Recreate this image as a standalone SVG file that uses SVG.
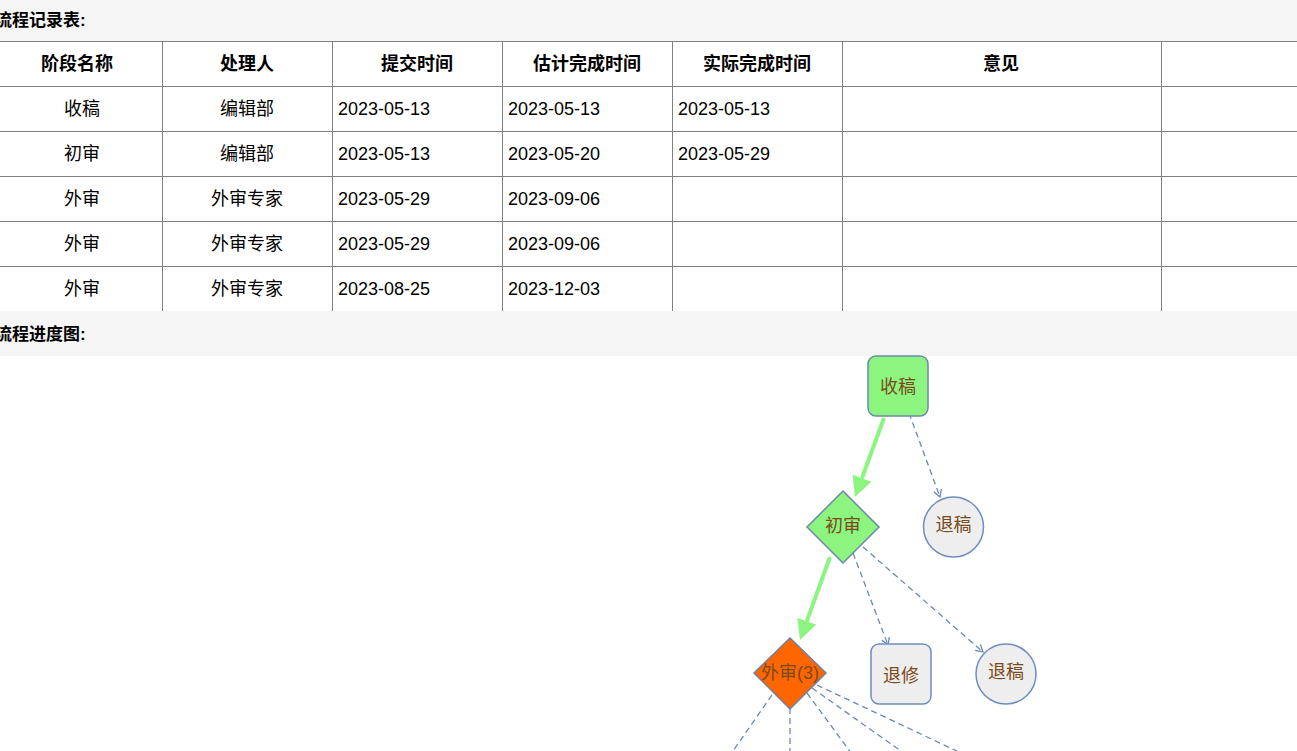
<svg xmlns="http://www.w3.org/2000/svg" width="1297" height="751" viewBox="0 0 1297 751">
<style>
.band{fill:#f5f5f5}
.title{font-family:"Liberation Sans","Noto Sans CJK SC",sans-serif;font-size:17px;font-weight:bold;fill:#000}
.grid{stroke:#808080;stroke-width:1;fill:none}
.th{font-family:"Liberation Sans","Noto Sans CJK SC",sans-serif;font-size:18px;font-weight:bold;fill:#000;text-anchor:middle;dominant-baseline:central}
.td{font-family:"Liberation Sans","Noto Sans CJK SC",sans-serif;font-size:18px;fill:#000;text-anchor:middle;dominant-baseline:central}
.tdl{font-family:"Liberation Sans","Noto Sans CJK SC",sans-serif;font-size:18px;fill:#000;dominant-baseline:central}
.ok{fill:#8cf580;stroke:#6f87a8;stroke-width:1.5}
.cur{fill:#ff6600;stroke:#6f7f9f;stroke-width:1.5}
.back{fill:#eeeeee;stroke:#6c8ebf;stroke-width:1.5}
.lbl{font-family:"Liberation Sans","Noto Sans CJK SC",sans-serif;font-size:18px;fill:#7a4a1a;text-anchor:middle;dominant-baseline:central}
.main{stroke:#8cf580;stroke-width:4;fill:none;marker-end:url(#ga)}
.alt{stroke:#6d87b6;stroke-width:1.3;stroke-dasharray:6 4;fill:none}
.alta{marker-end:url(#va)}
</style>
<defs>
<marker id="ga" markerUnits="userSpaceOnUse" markerWidth="20" markerHeight="20" viewBox="0 0 20 20" refX="0" refY="10" orient="auto">
<path d="M0,0 L20,10 L0,20 z" fill="#8cf580"/>
</marker>
<marker id="va" markerUnits="userSpaceOnUse" markerWidth="10" markerHeight="10" viewBox="0 0 10 10" refX="8" refY="5" orient="auto">
<path d="M1,1 L8,5 L1,9" fill="none" stroke="#6d87b6" stroke-width="1.3"/>
</marker>
</defs>
<rect width="1297" height="751" fill="#fff"/>
<g id="record-table">
<rect class="band" x="0" y="0" width="1297" height="41"/>
<text class="title" x="-5" y="26">流程记录表:</text>
<path class="grid" d="M0,41.5H1297M0,86.5H1297M0,131.5H1297M0,176.5H1297M0,221.5H1297M0,266.5H1297M162.5,41V311M332.5,41V311M502.5,41V311M672.5,41V311M842.5,41V311M1161.5,41V311"/>
<text class="th" x="77" y="64">阶段名称</text>
<text class="th" x="247" y="64">处理人</text>
<text class="th" x="417" y="64">提交时间</text>
<text class="th" x="587" y="64">估计完成时间</text>
<text class="th" x="757" y="64">实际完成时间</text>
<text class="th" x="1001" y="64">意见</text>
<text class="td" x="82" y="108.5">收稿</text>
<text class="td" x="247" y="108.5">编辑部</text>
<text class="tdl" x="338" y="108.5">2023-05-13</text>
<text class="tdl" x="508" y="108.5">2023-05-13</text>
<text class="tdl" x="678" y="108.5">2023-05-13</text>
<text class="td" x="82" y="153.5">初审</text>
<text class="td" x="247" y="153.5">编辑部</text>
<text class="tdl" x="338" y="153.5">2023-05-13</text>
<text class="tdl" x="508" y="153.5">2023-05-20</text>
<text class="tdl" x="678" y="153.5">2023-05-29</text>
<text class="td" x="82" y="198.5">外审</text>
<text class="td" x="247" y="198.5">外审专家</text>
<text class="tdl" x="338" y="198.5">2023-05-29</text>
<text class="tdl" x="508" y="198.5">2023-09-06</text>
<text class="td" x="82" y="243.5">外审</text>
<text class="td" x="247" y="243.5">外审专家</text>
<text class="tdl" x="338" y="243.5">2023-05-29</text>
<text class="tdl" x="508" y="243.5">2023-09-06</text>
<text class="td" x="82" y="288.5">外审</text>
<text class="td" x="247" y="288.5">外审专家</text>
<text class="tdl" x="338" y="288.5">2023-08-25</text>
<text class="tdl" x="508" y="288.5">2023-12-03</text>
<rect class="band" x="0" y="311" width="1297" height="45"/>
<text class="title" x="-5" y="340">流程进度图:</text>
</g>
<g id="connectors">
<path class="main" d="M884,418 L861.9,478.2"/>
<path class="main" d="M830,557 L806.8,621.2"/>
<path class="alt alta" d="M909,413 L940,497"/>
<path class="alt alta" d="M853,553 L888,645"/>
<path class="alt alta" d="M863,547 L983,652"/>
<path class="alt" d="M772,695 L726,761"/>
<path class="alt" d="M790,708 L790,761"/>
<path class="alt" d="M807,693 L857,761"/>
<path class="alt" d="M812,688 L915,761"/>
<path class="alt" d="M817,685 L978,761"/>
</g>
<g id="node-shougao">
<rect class="ok" x="868" y="356" width="60" height="60" rx="8"/>
<text class="lbl" x="898" y="387">收稿</text>
</g>
<g id="node-tuigao1">
<circle class="back" cx="953.5" cy="527" r="30"/>
<text class="lbl" x="953.5" y="525">退稿</text>
</g>
<g id="node-chushen">
<polygon class="ok" points="843,491 879,527 843,563 807,527"/>
<text class="lbl" x="843" y="526">初审</text>
</g>
<g id="node-waishen">
<polygon class="cur" points="790,638 826,673 790,709 754,673"/>
<text class="lbl" x="790" y="673">外审(3)</text>
</g>
<g id="node-tuixiu">
<rect class="back" x="871" y="644" width="60" height="60" rx="8"/>
<text class="lbl" x="901" y="676">退修</text>
</g>
<g id="node-tuigao2">
<circle class="back" cx="1006" cy="674" r="30"/>
<text class="lbl" x="1006" y="672">退稿</text>
</g>
</svg>
